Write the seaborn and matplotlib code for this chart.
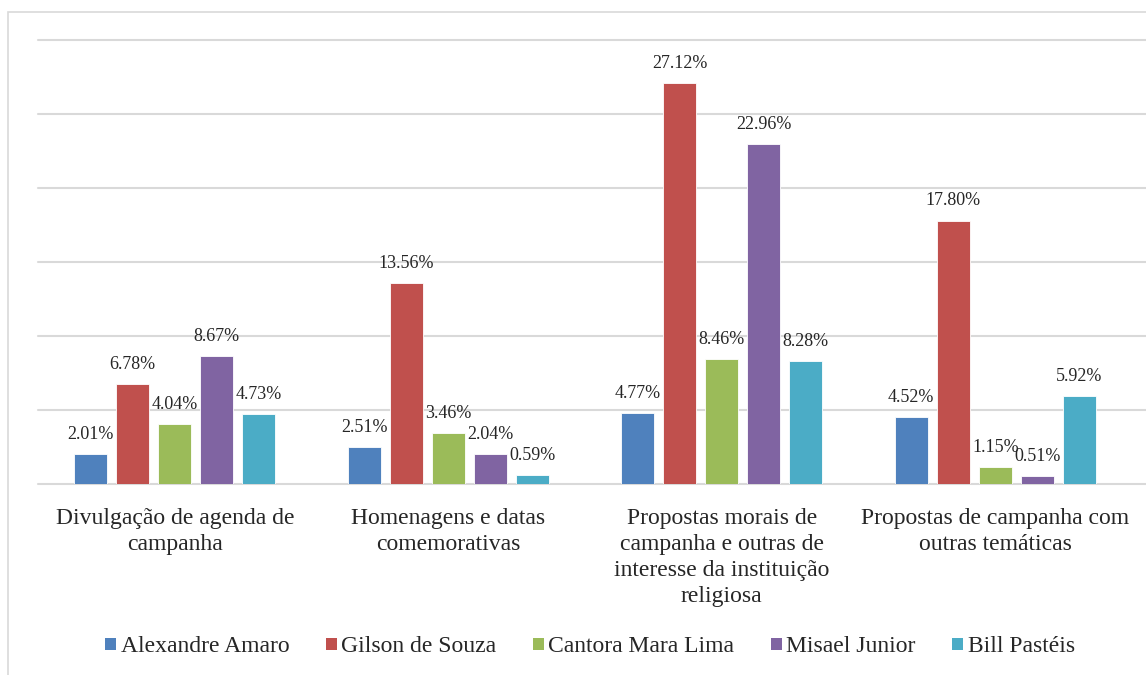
import matplotlib
matplotlib.use("Agg")
import matplotlib.pyplot as plt
import seaborn as sns
import pandas as pd
from matplotlib.patches import Patch, Rectangle

categories = [
    "Divulgação de agenda de\ncampanha",
    "Homenagens e datas\ncomemorativas",
    "Propostas morais de\ncampanha e outras de\ninteresse da instituição\nreligiosa",
    "Propostas de campanha com\noutras temáticas",
]
series_names = ["Alexandre Amaro", "Gilson de Souza", "Cantora Mara Lima", "Misael Junior", "Bill Pastéis"]
alexandre = [2.01, 2.51, 4.77, 4.52]
gilson = [6.78, 13.56, 27.12, 17.80]
cantora = [4.04, 3.46, 8.46, 1.15]
misael = [8.67, 2.04, 22.96, 0.51]
bill = [4.73, 0.59, 8.28, 5.92]
colors = ["#4F81BD", "#C0504D", "#9BBB59", "#8064A2", "#4BACC6"]

rows = []
for name, vals in zip(series_names, [alexandre, gilson, cantora, misael, bill]):
    for c, v in zip(categories, vals):
        rows.append({"cat": c, "serie": name, "val": v})
df = pd.DataFrame(rows)

sns.set_theme(style="white")
plt.rcParams["font.family"] = ["Liberation Serif", "DejaVu Serif"]

W, H = 1146, 675
fig = plt.figure(figsize=(W / 100, H / 100), dpi=100)
ax = fig.add_axes([38 / W, (H - 484) / H, (1146 - 38) / W, (484 - 40) / H])

sns.barplot(data=df, x="cat", y="val", hue="serie", order=categories,
            hue_order=series_names, palette=colors, width=0.768, gap=0.214,
            saturation=1, edgecolor="white", linewidth=0.6, ax=ax, legend=False)

for cont in ax.containers:
    ax.bar_label(cont, fmt="%.2f%%", padding=8, fontsize=13, color="#262626")

ax.set_xlim(-0.5, 3.551)
ax.set_ylim(0, 30)
ax.set_yticks([0, 5, 10, 15, 20, 25, 30])
ax.set_yticklabels([])
ax.yaxis.grid(True, color="#D9D9D9", linewidth=1.5)
ax.set_axisbelow(True)
for g in ax.get_ygridlines():
    g.set_clip_on(False)
for s in ax.spines.values():
    s.set_visible(False)
ax.tick_params(axis="x", length=0, pad=17, labelsize=17, colors="#262626")
ax.tick_params(axis="y", length=0)
ax.set_xlabel("")
ax.set_ylabel("")
for lbl in ax.get_xticklabels():
    lbl.set_linespacing(1.33)

handles = [Patch(facecolor=c, edgecolor="none", label=n) for c, n in zip(colors, series_names)]
fig.legend(handles=handles, loc="center", bbox_to_anchor=(590 / W, 1 - 647 / H), ncol=5,
           frameon=False, fontsize=17, handlelength=0.45, handleheight=0.45,
           handletextpad=0.2, columnspacing=1.55, labelcolor="#262626")

fig.patches.append(Rectangle((8 / W, -0.1), 1.2, (H - 12) / H + 0.1, transform=fig.transFigure,
                             facecolor="none", edgecolor="#D9D9D9", linewidth=1.2))

fig.savefig("out.png", dpi=100)
